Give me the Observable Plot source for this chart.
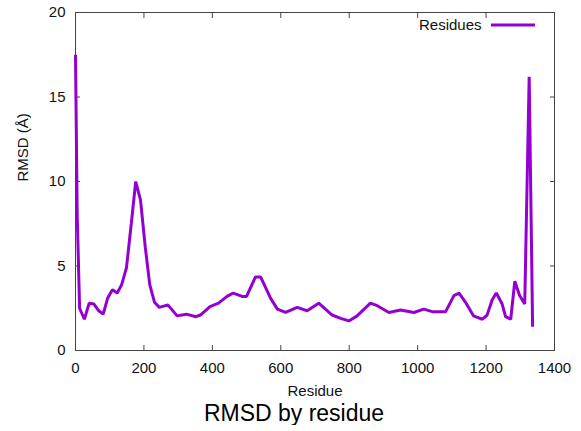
<!DOCTYPE html>
<html>
<head>
<meta charset="utf-8">
<script src="https://cdn.jsdelivr.net/npm/d3@7"></script>
<script src="https://cdn.jsdelivr.net/npm/@observablehq/plot@0.6"></script>
<style>
  body { margin: 0; background: #fff; }
  #chart { width: 581px; }
  #title { width: 581px; box-sizing: border-box; padding-left: 7px; text-align: center;
           font-family: "Liberation Sans", Arial, sans-serif; font-size: 23px; line-height: 23px;
           margin-top: 2px; color: #000; }
</style>
</head>
<body>
<div id="chart"></div>
<div id="title">RMSD by residue</div>
<script>
const residue = [0, 5, 12, 26, 40, 54, 68, 81, 94, 108, 122, 135, 149, 163, 176, 190, 204, 217, 231, 245,
  270, 297, 324, 352, 365, 393, 418, 443, 461, 487, 500, 526, 541, 570, 590, 614, 648, 677, 711, 750,
  775, 799, 823, 862, 882, 916, 950, 989, 1018, 1043, 1082, 1106, 1121, 1140, 1163, 1189, 1203, 1218, 1230, 1247,
  1257, 1272, 1284, 1298, 1313, 1326, 1336];
const rmsd = [17.5, 8.0, 2.5, 1.85, 2.8, 2.75, 2.35, 2.15, 3.1, 3.6, 3.4, 3.9, 4.9, 7.5, 10.0, 8.9, 6.1, 3.9, 2.85, 2.55,
  2.7, 2.05, 2.15, 2.0, 2.1, 2.6, 2.8, 3.2, 3.4, 3.2, 3.2, 4.35, 4.35, 3.1, 2.45, 2.25, 2.55, 2.35, 2.8, 2.1,
  1.9, 1.75, 2.05, 2.8, 2.65, 2.25, 2.4, 2.25, 2.45, 2.3, 2.3, 3.25, 3.4, 2.85, 2.05, 1.85, 2.1, 3.0, 3.4, 2.75,
  2.0, 1.85, 4.1, 3.25, 2.75, 16.2, 1.4];
const xTicks = [0, 200, 400, 600, 800, 1000, 1200, 1400];
const yTicks = [0, 5, 10, 15, 20];
const seriesName = "Residues";
const xLabel = "Residue";
const yLabel = "RMSD (Å)";

const data = residue.map((r, i) => ({residue: r, rmsd: rmsd[i]}));
const lineColor = "#9400d3";
const axisColor = "#444";
const fmt = d => String(d);

const plot = Plot.plot({
  width: 581,
  height: 400,
  marginLeft: 75,
  marginRight: 27,
  marginTop: 12,
  marginBottom: 50,
  style: {fontFamily: "'Liberation Sans', Arial, sans-serif", fontSize: "15px", color: "#111", background: "#fff"},
  x: {domain: [0, 1400]},
  y: {domain: [0, 20]},
  marks: [
    Plot.axisX({anchor: "bottom", ticks: xTicks, tickSize: 5, dy: -5, fill: "none", stroke: axisColor, label: null}),
    Plot.axisX({anchor: "top", ticks: xTicks, tickSize: 5, dy: 5, fill: "none", stroke: axisColor, label: null}),
    Plot.axisY({anchor: "left", ticks: yTicks, tickSize: 5, dx: 5, fill: "none", stroke: axisColor, label: null}),
    Plot.axisY({anchor: "right", ticks: yTicks, tickSize: 5, dx: -5, fill: "none", stroke: axisColor, label: null}),
    Plot.axisX({anchor: "bottom", ticks: xTicks, tickSize: 0, tickPadding: 12, tickFormat: fmt, label: null}),
    Plot.axisY({anchor: "left", ticks: yTicks, tickSize: 0, tickPadding: 10, tickFormat: fmt, label: null}),
    Plot.frame({stroke: axisColor}),
    Plot.line(data, {x: "residue", y: "rmsd", stroke: lineColor, strokeWidth: 3, strokeLinejoin: "miter", strokeLinecap: "butt"}),
    Plot.text([xLabel], {frameAnchor: "bottom", dy: 41, lineAnchor: "middle"}),
    Plot.text([yLabel], {frameAnchor: "left", rotate: -90, dx: -52, lineAnchor: "middle"}),
    Plot.text([seriesName], {frameAnchor: "top-right", dx: -73, dy: 13, textAnchor: "end", lineAnchor: "middle"})
  ]
});
document.getElementById("chart").appendChild(plot);

// legend sample line
d3.select(plot).append("line")
  .attr("x1", 491).attr("x2", 535).attr("y1", 25).attr("y2", 25)
  .attr("stroke", lineColor).attr("stroke-width", 3);
</script>
</body>
</html>
